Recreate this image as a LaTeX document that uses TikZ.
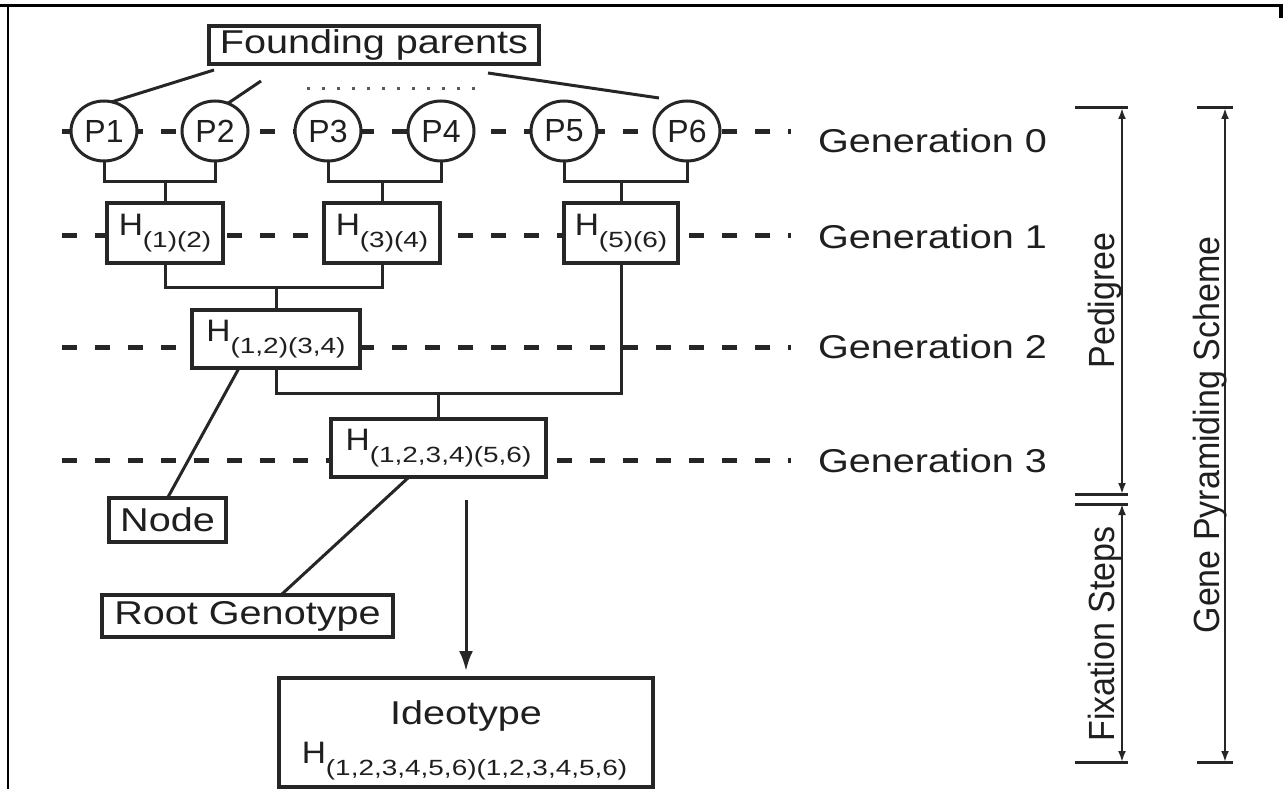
\documentclass[tikz,border=0pt]{standalone}
\usepackage{fontspec}
\setmainfont{Liberation Sans}
\usetikzlibrary{arrows.meta,calc,shapes.geometric}
\newcommand{\hx}[1]{\scalebox{1.2}[1]{#1}}
\newcommand{\Hlab}[1]{\scalebox{1.08}[1]{\fontsize{31}{31}\selectfont H}\raisebox{-12pt}{\scalebox{1.27}[1]{\fontsize{22}{22}\selectfont #1}}}
\begin{document}
\begin{tikzpicture}[x=1pt,y=-1pt,
  every node/.style={inner sep=0pt, outer sep=0pt, text=black!88},
  conn/.style={line width=3pt, draw=black!85},
  genline/.style={line width=5pt, dash pattern=on 15pt off 18pt, draw=black!85},
  hbox/.style={draw=black!85, line width=3.2pt, fill=white, minimum height=60pt},
  pnode/.style={ellipse, draw=black!85, line width=3pt, fill=white, minimum width=66pt, minimum height=60pt, font=\fontsize{32}{32}\selectfont},
  lbl/.style={font=\fontsize{33}{33}\selectfont},
  rlbl/.style={font=\fontsize{34}{34}\selectfont, rotate=90, anchor=base},
  dimarr/.style={line width=2.6pt, draw=black!85, {Latex[length=11pt,width=8pt]}-{Latex[length=11pt,width=8pt]}},
  tickl/.style={line width=3pt, draw=black!85},
]
\useasboundingbox (0,0) rectangle (1283,789);
\fill[white] (0,0) rectangle (1283,789);
% frame
\draw[line width=2.4pt] (8,5.5) -- (1283,5.5);
\draw[line width=3.2pt] (0,5.5) -- (24,5.5);
\draw[line width=2.8pt] (8,5) -- (8,789);
\draw[line width=3.2pt] (1281,5) -- (1281,18);

% generation labels
\node[lbl, anchor=west] (gen0) at (818,141) {\hx{Generation 0}};
\node[lbl, anchor=west] (gen1) at (818,237) {\hx{Generation 1}};
\node[lbl, anchor=west] (gen2) at (818,347) {\hx{Generation 2}};
\node[lbl, anchor=west] (gen3) at (818,461) {\hx{Generation 3}};

% generation dashed lines
\coordinate (g0a) at (62,132); \coordinate (g0b) at (791,132);
\coordinate (g1a) at (62,235); \coordinate (g1b) at (791,235);
\coordinate (g2a) at (62,347); \coordinate (g2b) at (791,347);
\coordinate (g3a) at (62,460); \coordinate (g3b) at (791,460);
\draw[genline] (g0a) -- (g0b);
\draw[genline] (g1a) -- (g1b);
\draw[genline] (g2a) -- (g2b);
\draw[genline] (g3a) -- (g3b);

% founding parents
\node[hbox, minimum width=330pt, minimum height=38pt, lbl] (fp) at (374,45) {\hx{Founding parents}};
\coordinate (d1) at (307,89); \coordinate (d2) at (475,89);
\draw[line width=3pt, dash pattern=on 3pt off 12pt, draw=black!65] (d1) -- (d2);

% parents
\node[pnode] (P1) at (104,131) {P1};
\node[pnode] (P2) at (215,131) {P2};
\node[pnode] (P3) at (328,131) {P3};
\node[pnode] (P4) at (441,131) {P4};
\node[pnode] (P5) at (564,131) {P5};
\node[pnode] (P6) at (687,131) {P6};

% hybrids
\node[hbox, minimum width=116pt] (h12) at (165,233) {\Hlab{(1)(2)}};
\node[hbox, minimum width=116pt] (h34) at (382,233) {\Hlab{(3)(4)}};
\node[hbox, minimum width=114pt] (h56) at (621,233) {\Hlab{(5)(6)}};
\node[hbox, minimum width=168pt, minimum height=58pt] (h1234) at (276,339) {\Hlab{(1,2)(3,4)}};
\node[hbox, minimum width=215pt, minimum height=58pt] (h123456) at (438.5,448) {\Hlab{(1,2,3,4)(5,6)}};

% annotation boxes
\node[hbox, minimum width=117pt, minimum height=44pt, lbl] (nodeb) at (167.5,520) {\hx{Node}};
\node[hbox, minimum width=291pt, minimum height=42pt, lbl] (root) at (247.5,616) {\hx{Root Genotype}};
\node[hbox, minimum width=374pt, minimum height=109pt] (ideo) at (466,732.5) {};
\node[lbl] (ideoT) at (466,716) {\hx{Ideotype}};
\node (ideoH) at (464.5,761) {\Hlab{(1,2,3,4,5,6)(1,2,3,4,5,6)}};

% founding parents connectors
\coordinate (fa) at (214,70);
\coordinate (fb) at (261,81);
\coordinate (fc) at (488,73);
\coordinate (fd) at (659,98);
\draw[conn] (fa) -- (P1.75);
\draw[conn] (fb) -- (P2.65);
\draw[conn] (fc) -- (fd);

% pedigree connectors
\coordinate (j1) at (165,182);
\coordinate (j2) at (382,182);
\coordinate (j3) at (621,182);
\draw[conn] (P1.south) |- (j1) -| (P2.south);
\draw[conn] (j1) -- (h12.north);
\draw[conn] (P3.south) |- (j2) -| (P4.south);
\draw[conn] (j2) -- (h34.north);
\draw[conn] (P5.south) |- (j3) -| (P6.south);
\draw[conn] (j3) -- (h56.north);
\coordinate (k1) at (276,287);
\draw[conn] (h12.south) |- (k1) -| (h34.south);
\draw[conn] (k1) -- (h1234.north);
\coordinate (k2) at (438.5,393);
\draw[conn] (h1234.south) |- (k2) -| (h56.south);
\draw[conn] (k2) -- (h123456.north);

% annotations
\draw[conn] ($(h1234.south west)!0.28!(h1234.south east)$) -- (nodeb.north);
\draw[conn] ($(h123456.south west)!0.363!(h123456.south east)$) -- ($(root.north west)!0.615!(root.north east)$);
\coordinate (as) at ($(ideo.north)+(0,-178)$);
\draw[conn, -{Latex[length=20pt,width=14pt]}, shorten >=7pt] (as) -- (ideo.north);

% right dimension lines
\coordinate (pedT) at (1122,108); \coordinate (pedB) at (1122,494);
\coordinate (fixT) at (1122,504); \coordinate (fixB) at (1122,762);
\coordinate (gpsT) at (1225,108); \coordinate (gpsB) at (1225,762);
\draw[dimarr] (pedT) -- (pedB);
\draw[dimarr] (fixT) -- (fixB);
\draw[dimarr] (gpsT) -- (gpsB);
\draw[tickl] (1075,108) -- (1128,108);
\draw[tickl] (1075,494) -- (1128,494);
\draw[tickl] (1075,504) -- (1128,504);
\draw[tickl] (1075,762) -- (1128,762);
\draw[tickl] (1197,108) -- (1233,108);
\draw[tickl] (1197,762) -- (1233,762);
\node[rlbl] (ped) at (1114,300.5) {\scalebox{1}[1.07]{Pedigree}};
\node[rlbl] (fix) at (1114,634) {\scalebox{1}[1.07]{Fixation Steps}};
\node[rlbl] (gps) at (1219,435) {\scalebox{1}[1.07]{Gene Pyramiding Scheme}};
\end{tikzpicture}
\end{document}
